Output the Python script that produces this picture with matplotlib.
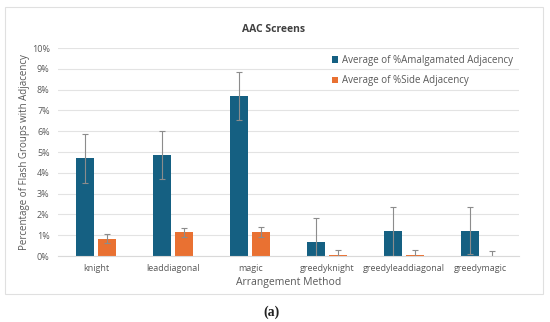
import numpy as np
import matplotlib.pyplot as plt
from matplotlib.patches import Rectangle

# data (percent)
methods = ['knight', 'leaddiagonal', 'magic', 'greedyknight', 'greedyleaddiagonal', 'greedymagic']
amalgamated = [4.70, 4.85, 7.71, 0.69, 1.18, 1.21]
amalgamated_err = [1.18, 1.16, 1.16, 1.16, 1.16, 1.13]
side = [0.84, 1.13, 1.14, 0.05, 0.05, 0.0]
side_err = [0.23, 0.23, 0.24, 0.25, 0.25, 0.26]
yticks = [0, 1, 2, 3, 4, 5, 6, 7, 8, 9, 10]

blue = '#156082'
orange = '#E97132'
grey_txt = '#595959'

plt.rcParams['font.family'] = ['Open Sans', 'DejaVu Sans']

fig = plt.figure(figsize=(5.5, 3.22), dpi=100)
ax = fig.add_axes([58 / 550, 1 - 256 / 322, 461 / 550, 208 / 322])

x = np.arange(len(methods))
w = 0.234
off = 0.143
ekw = dict(ecolor='#8c8c8c', elinewidth=0.8, capsize=2, capthick=0.8)
ax.bar(x - off, amalgamated, w, color=blue, yerr=amalgamated_err, error_kw=ekw,
       label='Average of %Amalgamated Adjacency', zorder=2)
ax.bar(x + off, side, w, color=orange, yerr=side_err, error_kw=ekw,
       label='Average of %Side Adjacency', zorder=2)

ax.set_xlim(-0.5, len(methods) - 0.5)
ax.set_ylim(0, 10)
ax.set_yticks(yticks)
ax.set_yticklabels([f'{t}%' for t in yticks])
ax.set_xticks(x)
ax.set_xticklabels(methods)
ax.tick_params(length=0, labelsize=6.5, colors=grey_txt, pad=6)
ax.yaxis.grid(True, color='#e3e3e3', linewidth=0.8, zorder=0)
for s in ['top', 'right', 'left']:
    ax.spines[s].set_visible(False)
ax.spines['bottom'].set_color('#d9d9d9')

ax.set_xlabel('Arrangement Method', fontsize=7.5, color=grey_txt, labelpad=3)
ax.set_ylabel('Percentage of Flash Groups with Adjacency', fontsize=7, color=grey_txt, labelpad=1)

ax.legend(loc='upper left', bbox_to_anchor=(0.585, 0.985), frameon=False, fontsize=7,
          handlelength=0.65, handleheight=0.65, handletextpad=0.4, labelspacing=0.95,
          labelcolor=grey_txt, borderaxespad=0)

fig.text(274 / 550, 1 - 30 / 322, 'AAC Screens', ha='center', va='center',
         fontsize=7.5, fontweight='bold', color='#404040')

# chart border
fig.patches.append(Rectangle((5 / 550, 1 - 294 / 322), 538 / 550, 287 / 322,
                             transform=fig.transFigure, fill=False,
                             edgecolor='#e0e0e0', linewidth=0.8))

fig.text(272 / 550, 1 - 312 / 322, '(a)', ha='center', va='center', fontsize=10,
         fontweight='bold', family=['Liberation Serif', 'DejaVu Serif'], color='#222222')

fig.savefig('out.png', dpi=100)
